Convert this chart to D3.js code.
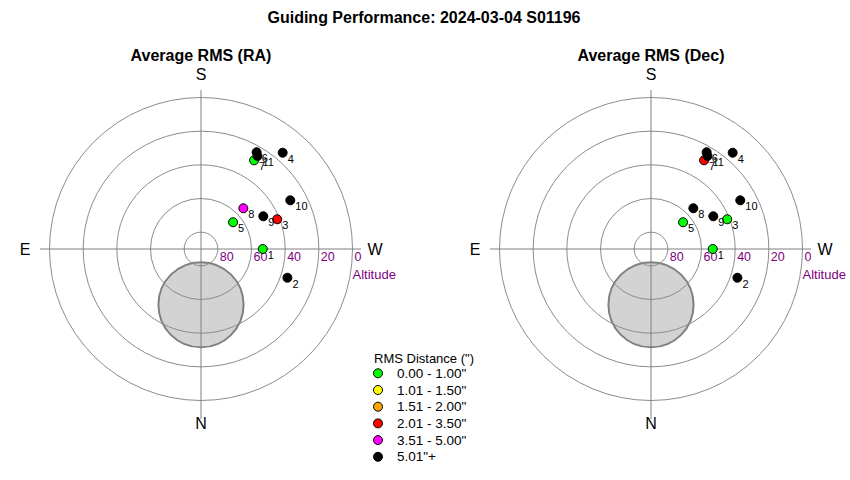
<!DOCTYPE html>
<html>
<head>
<meta charset="utf-8">
<script src="https://cdn.jsdelivr.net/npm/d3@7"></script>
<style>
  body { margin: 0; background: #fff; }
  text { font-family: "Liberation Sans", Arial, sans-serif; }
</style>
</head>
<body>
<script>
// guide log points, one entry per session
const pointIds = [1, 2, 3, 4, 5, 6, 7, 8, 9, 10, 11];
const altitudes = [53.3, 35.9, 41.4, 15.0, 65.2, 23.7, 28.6, 55.1, 48.2, 29.6, 25.4];
const azimuths = [270, 288.4, 248.7, 220.3, 230.2, 209.9, 210.9, 226.1, 242.3, 241.4, 211.3];
// index into the RMS bins below
const raBins = [0, 5, 3, 5, 0, 5, 0, 4, 5, 5, 5];
const decBins = [0, 5, 0, 5, 0, 5, 3, 5, 5, 5, 5];

const binLabels = ['0.00 - 1.00"', '1.01 - 1.50"', '1.51 - 2.00"', '2.01 - 3.50"', '3.51 - 5.00"', '5.01"+'];
const binColors = ["#00ff00", "#ffff00", "#ffa500", "#ff0000", "#ff00ff", "#000000"];

const altRings = [80, 60, 40, 20, 0];
const exclusion = { alt: 56.9, az: 0, radius: 25.3 }; // degrees

const width = 850;
const height = 480;
const R = 151.5;
const cy = 249;

const svg = d3.select("body").append("svg")
  .attr("width", width)
  .attr("height", height);

svg.append("text")
  .attr("x", 424)
  .attr("y", 23)
  .attr("text-anchor", "middle")
  .attr("font-size", 16)
  .attr("font-weight", "bold")
  .text("Guiding Performance: 2024-03-04 S01196");

const r = d3.scaleLinear().domain([90, 0]).range([0, R]);
const color = d3.scaleOrdinal().domain(d3.range(binLabels.length)).range(binColors);

function project(alt, az) {
  const rad = (az * Math.PI) / 180;
  return [-r(alt) * Math.sin(rad), r(alt) * Math.cos(rad)];
}

function drawPlot(cx, title, bins) {
  const g = svg.append("g").attr("transform", `translate(${cx},${cy})`);

  svg.append("text")
    .attr("x", cx).attr("y", 61)
    .attr("text-anchor", "middle")
    .attr("font-size", 16)
    .attr("font-weight", "bold")
    .text(title);

  // grey zone around the pole
  const [ex, ey] = project(exclusion.alt, exclusion.az);
  g.append("circle")
    .attr("cx", ex).attr("cy", ey)
    .attr("r", r(90 - exclusion.radius))
    .attr("fill", "#d3d3d3")
    .attr("stroke", "#808080")
    .attr("stroke-width", 2);

  g.selectAll(".ring")
    .data(altRings)
    .enter().append("circle")
    .attr("class", "ring")
    .attr("r", (d) => r(d))
    .attr("fill", "none")
    .attr("stroke", "#8c8c8c")
    .attr("stroke-width", 1);

  g.append("line").attr("x1", -161).attr("x2", 160).attr("y1", 0).attr("y2", 0)
    .attr("stroke", "#808080");
  g.append("line").attr("x1", 0).attr("x2", 0).attr("y1", -159).attr("y2", 170)
    .attr("stroke", "#808080");

  // altitude tick labels
  g.selectAll(".alt")
    .data(altRings)
    .enter().append("text")
    .attr("class", "alt")
    .attr("x", (d) => r(d) + 2)
    .attr("y", 12)
    .attr("font-size", 12.5)
    .attr("fill", "#800080")
    .text((d) => d);
  g.append("text")
    .attr("x", r(0)).attr("y", 30)
    .attr("font-size", 13)
    .attr("fill", "#800080")
    .text("Altitude");

  // compass
  const compass = [
    { t: "S", x: 0, y: -169 },
    { t: "N", x: 0, y: 180 },
    { t: "E", x: -176, y: 5.5 },
    { t: "W", x: 174, y: 5.5 },
  ];
  g.selectAll(".dir")
    .data(compass)
    .enter().append("text")
    .attr("x", (d) => d.x).attr("y", (d) => d.y)
    .attr("text-anchor", "middle")
    .attr("font-size", 16)
    .text((d) => d.t);

  // points
  pointIds.forEach((id, i) => {
    const [px, py] = project(altitudes[i], azimuths[i]);
    g.append("circle")
      .attr("cx", px).attr("cy", py)
      .attr("r", 4.5)
      .attr("fill", color(bins[i]))
      .attr("stroke", "#000")
      .attr("stroke-width", 1);
    g.append("text")
      .attr("x", px + 5).attr("y", py + 10)
      .attr("font-size", 11)
      .text(id);
  });
}

drawPlot(201, "Average RMS (RA)", raBins);
drawPlot(651, "Average RMS (Dec)", decBins);

// legend
const legend = svg.append("g").attr("transform", "translate(374,363)");
legend.append("text")
  .attr("x", 0).attr("y", 0)
  .attr("font-size", 13)
  .text('RMS Distance (")');
const item = legend.selectAll(".item")
  .data(binLabels)
  .enter().append("g")
  .attr("transform", (d, i) => `translate(0,${10.3 + i * 16.7})`);
item.append("circle")
  .attr("cx", 4).attr("cy", 0).attr("r", 4.5)
  .attr("fill", (d, i) => binColors[i])
  .attr("stroke", "#000");
item.append("text")
  .attr("x", 23).attr("y", 4.5)
  .attr("font-size", 13.5)
  .text((d) => d);
</script>
</body>
</html>
